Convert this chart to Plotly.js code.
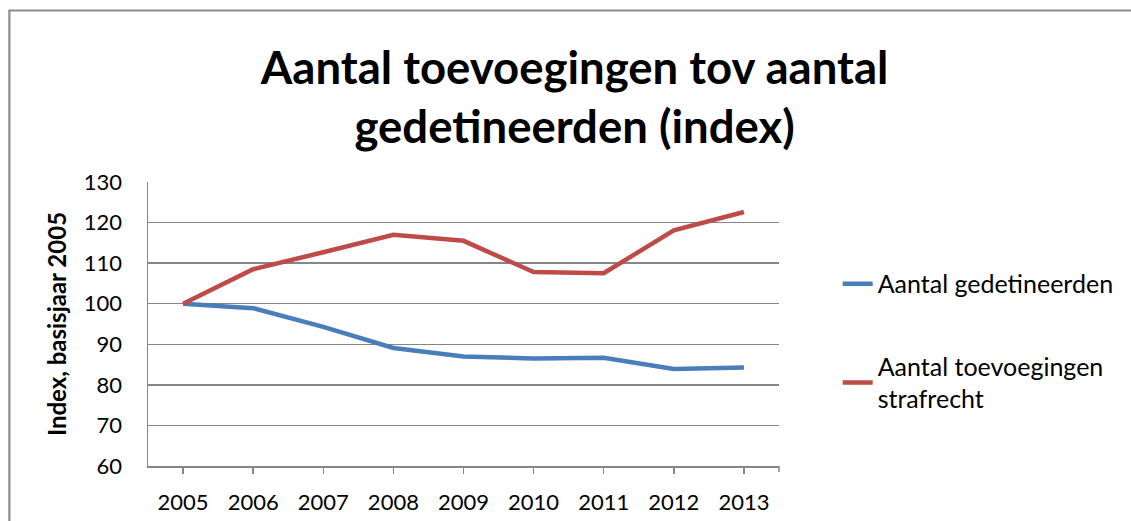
<!DOCTYPE html>
<html>
<head>
<meta charset="utf-8">
<script src="https://cdn.plot.ly/plotly-3.0.1.min.js"></script>
<style>
html,body{margin:0;padding:0;background:#fff;}
#chart{width:1131px;height:521px;}
</style>
</head>
<body>
<div id="chart"></div>
<script>
const years = ['2005','2006','2007','2008','2009','2010','2011','2012','2013'];
const gedetineerden = [100, 98.9, 94.3, 89.1, 87.0, 86.5, 86.7, 83.9, 84.3];
const toevoegingen = [100, 108.5, 112.7, 117.0, 115.5, 107.8, 107.5, 118.1, 122.6];
const seriesNames = ['Aantal gedetineerden', 'Aantal toevoegingen<br>strafrecht'];
const titleText = 'Aantal toevoegingen tov aantal<br>gedetineerden (index)';
const yTitle = 'Index, basisjaar 2005';

const FONT = 'Lato, "Open Sans", sans-serif';
const GRID = '#868686';

const traces = [
  {x: years, y: gedetineerden, type: 'scatter', mode: 'lines', name: seriesNames[0],
   line: {color: '#4A7EBB', width: 4.5}, legendgroup: 'a'},
  {x: years, y: toevoegingen, type: 'scatter', mode: 'lines', name: seriesNames[1],
   line: {color: '#BE4B48', width: 4.5}, legendgroup: 'b'}
];

const layout = {
  width: 1131, height: 521,
  margin: {l: 148, r: 348, t: 182, b: 55},
  paper_bgcolor: '#fff', plot_bgcolor: '#fff',
  font: {family: FONT, color: '#000', size: 22},
  title: {text: titleText, x: 0.508, xanchor: 'center', y: 1 - 84/521, yanchor: 'middle',
          yref: 'container', font: {family: FONT, size: 45.5, color: '#000', weight: 'bold'}},
  xaxis: {type: 'category', showgrid: false, showline: true, linecolor: GRID, linewidth: 1.5,
          ticks: 'outside', ticklen: 6, tickcolor: GRID, tickwidth: 1.5,
          range: [-0.5, 8.5], ticklabelstandoff: 10, tickfont: {size: 22}, fixedrange: true},
  yaxis: {range: [60, 130], dtick: 10, showgrid: true, gridcolor: GRID, gridwidth: 1.3,
          showline: true, linecolor: GRID, linewidth: 1.5, ticks: '', zeroline: false,
          ticklabelstandoff: 20, tickfont: {size: 22},
          title: {text: yTitle, font: {size: 24, weight: 'bold'}, standoff: 10}},
  legend: {x: 1.093, xanchor: 'left', y: 0.722, yanchor: 'top', font: {size: 25},
           tracegroupgap: 47, bgcolor: 'rgba(0,0,0,0)', itemwidth: 30},
  showlegend: true,
  shapes: [
    {type: 'rect', xref: 'paper', yref: 'paper', x0: (8.5-148)/635, x1: 2.5,
     y0: -0.5, y1: (466-10.5)/284, line: {color: '#8c8c8c', width: 2.2}, fillcolor: 'rgba(0,0,0,0)'},
    {type: 'line', xref: 'paper', yref: 'paper', x0: 1, x1: 1, y0: 0, y1: -6/284,
     line: {color: GRID, width: 1.5}}
  ]
};

Plotly.newPlot('chart', traces, layout, {displayModeBar: false, staticPlot: true});
</script>
</body>
</html>
